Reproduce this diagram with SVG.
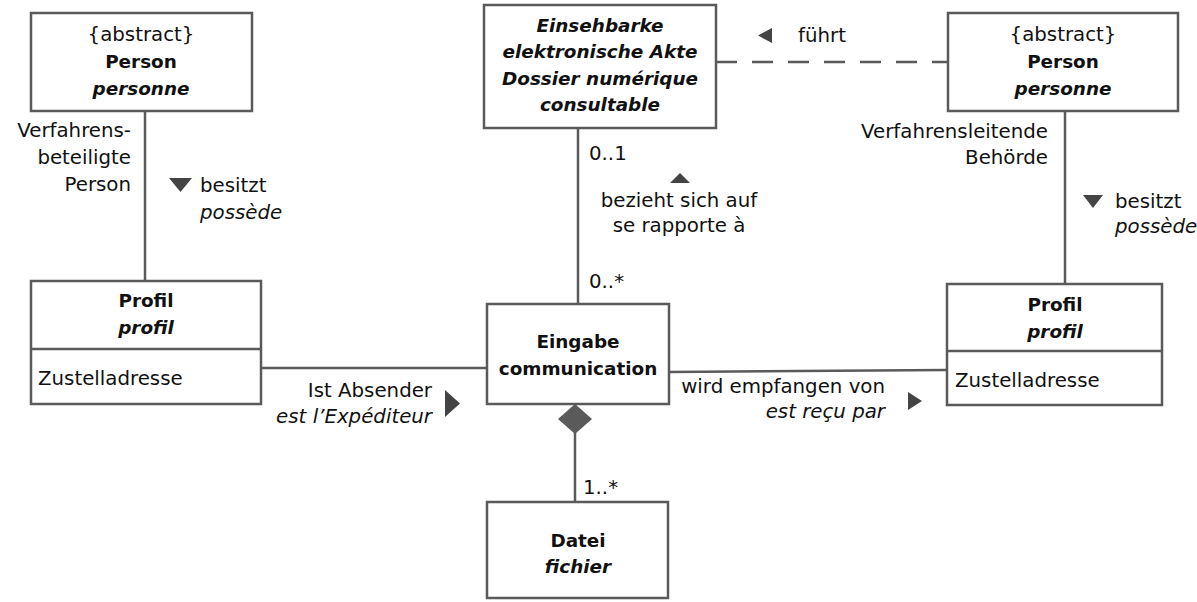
<svg xmlns="http://www.w3.org/2000/svg" width="1197" height="602" viewBox="0 0 1197 602">
  <style>
    .box { fill: #ffffff; stroke: #5a5a5a; stroke-width: 2.5; }
    .ln { fill: none; stroke: #5a5a5a; stroke-width: 2.5; }
    .dash { fill: none; stroke: #5a5a5a; stroke-width: 2.5; stroke-dasharray: 21 15; }
    .tri { fill: #444444; }
    text { font-family: "DejaVu Sans", sans-serif; font-size: 19.8px; fill: #111111; }
    .c { text-anchor: middle; }
    .r { text-anchor: end; }
    .b { font-weight: bold; font-size: 18.4px; }
    .i { font-style: italic; }
  </style>

  <g id="connectors">
    <line class="ln" x1="145" y1="111" x2="145" y2="282"/>
    <line class="ln" x1="1065" y1="111" x2="1065" y2="284"/>
    <line class="ln" x1="261" y1="368" x2="487" y2="368"/>
    <line class="ln" x1="669" y1="372" x2="947" y2="370"/>
    <line class="ln" x1="578" y1="128" x2="578" y2="304"/>
    <line class="dash" x1="716" y1="62" x2="948" y2="62"/>
    <line class="ln" x1="575" y1="433" x2="575" y2="502"/>
    <polygon fill="#5a5a5a" points="575,404 592,419 575,434 558,419"/>

    <!-- association direction markers -->
    <polygon class="tri" points="169,178 192,178 180.5,192"/>
    <polygon class="tri" points="1083,195 1103,195 1093,208"/>
    <polygon class="tri" points="445,390 460,403.5 445,417"/>
    <polygon class="tri" points="908,392 922,401 908,410"/>
    <polygon class="tri" points="670,183 690,183 680,173"/>
    <polygon class="tri" points="772,28 758,35.5 772,43"/>

    <!-- association labels -->
    <text class="r" x="131" y="137">Verfahrens-</text>
    <text class="r" x="131" y="164">beteiligte</text>
    <text class="r" x="131" y="191">Person</text>
    <text x="200" y="192">besitzt</text>
    <text class="i" x="200" y="219">possède</text>

    <text class="r" x="1048" y="138">Verfahrensleitende</text>
    <text class="r" x="1048" y="164">Behörde</text>
    <text x="1115" y="208">besitzt</text>
    <text class="i" x="1115" y="233">possède</text>

    <text x="798" y="42">führt</text>

    <text x="589" y="160">0..1</text>
    <text class="c" x="679" y="207">bezieht sich auf</text>
    <text class="c" x="679" y="232">se rapporte à</text>
    <text x="589" y="288">0..*</text>

    <text class="r" x="432" y="397">Ist Absender</text>
    <text class="r i" x="432" y="423">est l’Expéditeur</text>

    <text class="r" x="885" y="393">wird empfangen von</text>
    <text class="r i" x="885" y="418">est reçu par</text>

    <text x="583" y="494">1..*</text>
  </g>

  <g id="person-left">
    <rect class="box" x="31" y="13" width="221" height="98"/>
    <text class="c" x="141" y="41">{abstract}</text>
    <text class="c b" x="141" y="68">Person</text>
    <text class="c b i" x="141" y="95">personne</text>
  </g>

  <g id="akte">
    <rect class="box" x="484" y="5" width="232" height="123"/>
    <text class="c b i" x="600" y="32">Einsehbarke</text>
    <text class="c b i" x="600" y="58">elektronische Akte</text>
    <text class="c b i" x="600" y="85">Dossier numérique</text>
    <text class="c b i" x="600" y="111">consultable</text>
  </g>

  <g id="person-right">
    <rect class="box" x="948" y="13" width="230" height="98"/>
    <text class="c" x="1063" y="41">{abstract}</text>
    <text class="c b" x="1063" y="68">Person</text>
    <text class="c b i" x="1063" y="95">personne</text>
  </g>

  <g id="profil-left">
    <rect class="box" x="31" y="281" width="230" height="123"/>
    <line class="ln" x1="31" y1="349" x2="261" y2="349"/>
    <text class="c b" x="146" y="307">Profil</text>
    <text class="c b i" x="146" y="334">profil</text>
    <text x="38" y="385">Zustelladresse</text>
  </g>

  <g id="eingabe">
    <rect class="box" x="487" y="304" width="182" height="100"/>
    <text class="c b" x="578" y="348">Eingabe</text>
    <text class="c b" x="578" y="375">communication</text>
  </g>

  <g id="profil-right">
    <rect class="box" x="947" y="284" width="215" height="121"/>
    <line class="ln" x1="947" y1="351" x2="1162" y2="351"/>
    <text class="c b" x="1055" y="311">Profil</text>
    <text class="c b i" x="1055" y="338">profil</text>
    <text x="955" y="387">Zustelladresse</text>
  </g>

  <g id="datei">
    <rect class="box" x="487" y="502" width="181" height="96"/>
    <text class="c b" x="578" y="547">Datei</text>
    <text class="c b i" x="578" y="573">fichier</text>
  </g>
</svg>
